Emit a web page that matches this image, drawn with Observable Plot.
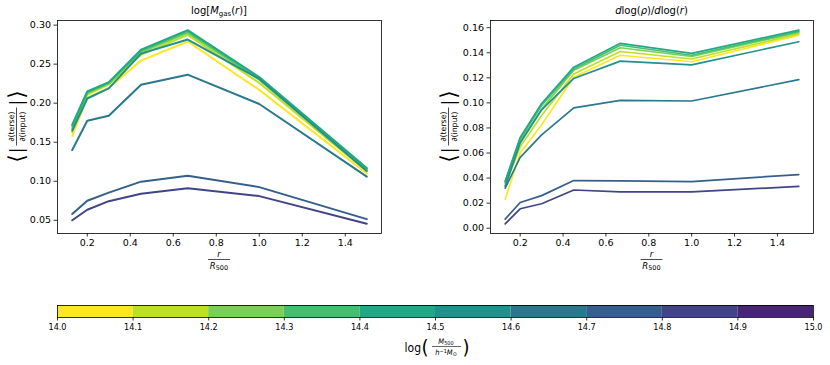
<!DOCTYPE html>
<html>
<head>
<meta charset="utf-8">
<script src="https://cdn.jsdelivr.net/npm/d3@7"></script>
<script src="https://cdn.jsdelivr.net/npm/@observablehq/plot@0.6"></script>
<style>
  html, body { margin: 0; padding: 0; background: #fff; }
  #fig { position: relative; width: 830px; height: 365px; background: #fff; overflow: hidden; }
  #fig > svg { position: absolute; }
</style>
</head>
<body>
<div id="fig"></div>
<script>
// ---------- data ----------
const radii = [0.13, 0.2, 0.3, 0.45, 0.667, 1.0, 1.5];
const massBins = ["14.0", "14.1", "14.2", "14.3", "14.4", "14.5", "14.6", "14.7", "14.8", "14.9"];
const massTicks = [14.0, 14.1, 14.2, 14.3, 14.4, 14.5, 14.6, 14.7, 14.8, 14.9, 15.0];
const xTicks = [0.2, 0.4, 0.6, 0.8, 1.0, 1.2, 1.4];
const yTicksGas = [0.05, 0.10, 0.15, 0.20, 0.25, 0.30];
const yTicksSlope = [0.00, 0.02, 0.04, 0.06, 0.08, 0.10, 0.12, 0.14, 0.16];

// log[M_gas(r)] panel, one array per mass bin
const gas140 = [0.158, 0.207, 0.2195, 0.2545, 0.279, 0.217, 0.110];
const gas141 = [0.163, 0.211, 0.224, 0.262, 0.2875, 0.226, 0.113];
const gas142 = [0.168, 0.213, 0.225, 0.265, 0.290, 0.230, 0.115];
const gas143 = [0.171, 0.214, 0.226, 0.267, 0.292, 0.232, 0.116];
const gas144 = [0.1725, 0.215, 0.227, 0.2685, 0.2935, 0.2335, 0.117];
const gas145 = [0.165, 0.206, 0.219, 0.2635, 0.2815, 0.231, 0.113];
const gas146 = [0.140, 0.1775, 0.184, 0.2235, 0.2365, 0.199, 0.106];
const gas147 = [0.058, 0.075, 0.0855, 0.0995, 0.107, 0.0925, 0.0515];
const gas148 = [0.050, 0.0635, 0.0745, 0.084, 0.091, 0.081, 0.0455];

// dlog(rho)/dlog(r) panel
const slope140 = [0.023, 0.060, 0.0825, 0.1205, 0.138, 0.1328, 0.154];
const slope141 = [0.034, 0.065, 0.090, 0.123, 0.141, 0.135, 0.155];
const slope142 = [0.036, 0.069, 0.095, 0.126, 0.144, 0.137, 0.1563];
const slope143 = [0.037, 0.071, 0.098, 0.127, 0.146, 0.138, 0.157];
const slope144 = [0.0375, 0.0725, 0.0995, 0.1285, 0.1475, 0.1395, 0.158];
const slope145 = [0.0335, 0.068, 0.0945, 0.1195, 0.1333, 0.1303, 0.1488];
const slope146 = [0.032, 0.0565, 0.0745, 0.096, 0.102, 0.1015, 0.1185];
const slope147 = [0.0072, 0.0205, 0.026, 0.038, 0.0378, 0.0372, 0.0428];
const slope148 = [0.0035, 0.0155, 0.0195, 0.0305, 0.029, 0.029, 0.0333];

const gasSeries = [gas140, gas141, gas142, gas143, gas144, gas145, gas146, gas147, gas148];
const slopeSeries = [slope140, slope141, slope142, slope143, slope144, slope145, slope146, slope147, slope148];

// ---------- helpers ----------
const palette = massBins.map((_, i) => d3.interpolateViridis(1 - i / 10));
const colorScale = {domain: massBins, range: palette};
const FONT = "DejaVu Sans, Liberation Sans, sans-serif";

function toTable(series) {
  const rows = [];
  series.forEach((vals, i) => vals.forEach((v, j) => rows.push({m: massBins[i], r: radii[j], v})));
  return rows;
}
function padded(vals) {
  const [a, b] = d3.extent(vals);
  const p = 0.05 * (b - a);
  return [a - p, b + p];
}
const xDom = padded(radii);

function panel(series, yTicks, ml, mr, sw) {
  const table = toTable(series);
  return Plot.plot({
    width: 415, height: 280,
    marginLeft: ml, marginRight: mr, marginTop: 20, marginBottom: 47,
    x: {domain: xDom},
    y: {domain: padded(table.map(d => d.v))},
    color: colorScale,
    style: {fontFamily: FONT, fontSize: "9.5px", color: "#000", background: "transparent", overflow: "visible"},
    marks: [
      Plot.line(table, {x: "r", y: "v", z: "m", stroke: "m", strokeWidth: sw, strokeLinejoin: "round"}),
      Plot.frame({stroke: "#000", strokeWidth: 0.8}),
      Plot.axisX({ticks: xTicks, tickFormat: d3.format(".1f"), tickSize: 3.5, tickPadding: 2.5, strokeWidth: 0.8, label: null, fontSize: 9.5}),
      Plot.axisY({ticks: yTicks, tickFormat: d3.format(".2f"), tickSize: 3.5, tickPadding: 3, strokeWidth: 0.8, label: null, fontSize: 9.5})
    ]
  });
}

function addYLabel(svg, cx, cy) {
  const g = d3.select(svg).append("g")
    .attr("transform", `translate(${cx},${cy}) rotate(-90)`)
    .attr("font-family", FONT).attr("fill", "#000");
  g.append("text").attr("x", -32).attr("y", 7.5).attr("font-size", 22).attr("text-anchor", "middle").text("⟨");
  g.append("text").attr("x", -24).attr("y", 6.5).attr("font-size", 17).attr("text-anchor", "middle").text("|");
  g.append("text").attr("x", 0).attr("y", -2).attr("font-size", 7.8).attr("text-anchor", "middle").text("∂(terse)");
  g.append("line").attr("x1", -19).attr("x2", 19).attr("y1", 0.5).attr("y2", 0.5).attr("stroke", "#000").attr("stroke-width", 0.7);
  g.append("text").attr("x", 0).attr("y", 8.5).attr("font-size", 7.8).attr("text-anchor", "middle").text("∂(input)");
  g.append("text").attr("x", 24).attr("y", 6.5).attr("font-size", 17).attr("text-anchor", "middle").text("|");
  g.append("text").attr("x", 32).attr("y", 7.5).attr("font-size", 22).attr("text-anchor", "middle").text("⟩");
}

function addXLabel(svg, cx) {
  const g = d3.select(svg).append("g").attr("font-family", FONT).attr("fill", "#000");
  g.append("text").attr("x", cx).attr("y", 257).attr("font-size", 8.5).attr("font-style", "italic").attr("text-anchor", "middle").text("r");
  g.append("line").attr("x1", cx - 11).attr("x2", cx + 11).attr("y1", 259.5).attr("y2", 259.5).attr("stroke", "#000").attr("stroke-width", 0.7);
  const t = g.append("text").attr("x", cx).attr("y", 268.5).attr("font-size", 8.5).attr("text-anchor", "middle");
  t.append("tspan").attr("font-style", "italic").text("R");
  t.append("tspan").attr("font-size", 6.5).attr("dy", 1.5).text("500");
}

// ---------- build ----------
const fig = document.getElementById("fig");

const left = panel(gasSeries, yTicksGas, 57, 34, 2);
left.style.left = "0px"; left.style.top = "0px";
fig.appendChild(left);
addYLabel(left, 16, 126.5);
addXLabel(left, 219);
{
  const t = d3.select(left).append("text").attr("x", 219).attr("y", 14).attr("text-anchor", "middle")
    .attr("font-family", FONT).attr("font-size", 10).attr("fill", "#000");
  t.append("tspan").text("log[");
  t.append("tspan").attr("font-style", "italic").text("M");
  t.append("tspan").attr("font-size", 7).attr("dy", 2).text("gas");
  t.append("tspan").attr("dy", -2).text("(");
  t.append("tspan").attr("font-style", "italic").text("r");
  t.append("tspan").text(")]");
}

const right = panel(slopeSeries, yTicksSlope, 75, 17, 1.7);
right.style.left = "415px"; right.style.top = "0px";
fig.appendChild(right);
addYLabel(right, 33, 126.5);
addXLabel(right, 75 + (415 - 75 - 17) / 2);
{
  const t = d3.select(right).append("text").attr("x", 75 + (415 - 75 - 17) / 2).attr("y", 14).attr("text-anchor", "middle")
    .attr("font-family", FONT).attr("font-size", 10).attr("fill", "#000");
  t.append("tspan").attr("font-style", "italic").text("d");
  t.append("tspan").text("log(");
  t.append("tspan").attr("font-style", "italic").text("ρ");
  t.append("tspan").text(")/");
  t.append("tspan").attr("font-style", "italic").text("d");
  t.append("tspan").text("log(");
  t.append("tspan").attr("font-style", "italic").text("r");
  t.append("tspan").text(")");
}

// colorbar
const bins = massBins.map((m, i) => ({m, lo: massTicks[i], hi: massTicks[i + 1]}));
const cbar = Plot.plot({
  width: 830, height: 70,
  marginLeft: 57, marginRight: 17, marginTop: 10, marginBottom: 48,
  x: {domain: [massTicks[0], massTicks[massTicks.length - 1]]},
  color: colorScale,
  style: {fontFamily: "DejaVu Sans Condensed, DejaVu Sans, sans-serif", fontSize: "9px", color: "#000", background: "transparent", overflow: "visible"},
  marks: [
    Plot.rect(bins, {x1: "lo", x2: "hi", fill: "m"}),
    Plot.frame({stroke: "#000", strokeWidth: 0.8}),
    Plot.axisX({ticks: massTicks, tickFormat: d3.format(".1f"), tickSize: 3.5, tickPadding: 3, strokeWidth: 0.8, label: null, fontSize: 9})
  ]
});
cbar.style.left = "0px"; cbar.style.top = "295px";
fig.appendChild(cbar);
{
  const g = d3.select(cbar).append("g").attr("font-family", "DejaVu Sans Condensed, DejaVu Sans, sans-serif").attr("fill", "#000");
  g.append("text").attr("x", 421).attr("y", 57).attr("font-size", 12).attr("text-anchor", "end").text("log");
  g.append("text").attr("x", 425).attr("y", 59).attr("font-size", 20).attr("text-anchor", "middle").text("(");
  const n = g.append("text").attr("x", 446).attr("y", 49).attr("font-size", 7.5).attr("text-anchor", "middle");
  n.append("tspan").attr("font-style", "italic").text("M");
  n.append("tspan").attr("font-size", 5.5).attr("dy", 1).text("500");
  g.append("line").attr("x1", 432).attr("x2", 461).attr("y1", 51.5).attr("y2", 51.5).attr("stroke", "#000").attr("stroke-width", 0.6);
  const d = g.append("text").attr("x", 446).attr("y", 60).attr("font-size", 7.5).attr("text-anchor", "middle");
  d.append("tspan").attr("font-style", "italic").text("h");
  d.append("tspan").attr("font-size", 5.5).attr("dy", -2.5).text("−1");
  d.append("tspan").attr("dy", 2.5).attr("font-style", "italic").text("M");
  d.append("tspan").attr("font-size", 5.5).attr("dy", 1).text("⊙");
  g.append("text").attr("x", 466).attr("y", 59).attr("font-size", 20).attr("text-anchor", "middle").text(")");
}
</script>
</body>
</html>
